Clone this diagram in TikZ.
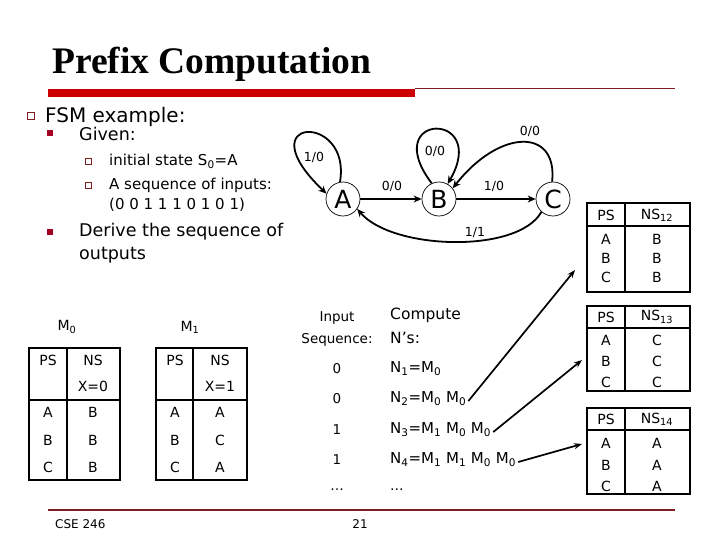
\documentclass[tikz,border=0pt]{standalone}
\usepackage{fontspec}
\setmainfont{DejaVu Sans}
\newfontfamily\titlefont{Liberation Serif}
\usetikzlibrary{arrows.meta}
\definecolor{barred}{RGB}{204,0,0}
\definecolor{linered}{RGB}{125,30,35}
\definecolor{bulletred}{RGB}{165,0,33}
\newcommand{\myfs}[1]{\fontsize{#1}{#1}\selectfont}
\begin{document}
\begin{tikzpicture}[x=1pt,y=-1pt,
  txt/.style={inner sep=0pt, anchor=west},
  ctxt/.style={inner sep=0pt},
  statenode/.style={circle, draw, line width=0.7pt, minimum size=34pt, inner sep=0pt, font=\myfs{25}},
  edgelab/.style={inner sep=0pt, font=\myfs{12.5}},
  trans/.style={line width=1.8pt, -{Stealth[length=8pt,width=7pt]}},
  tabline/.style={line width=2.2pt},
  celltxt/.style={inner sep=0pt, font=\myfs{14}},
  ptr/.style={line width=1.7pt, -{Stealth[length=8pt,width=6pt]}}]
\useasboundingbox (0,0) rectangle (720,540);
\fill[white] (0,0) rectangle (720,540);

% title
\node[txt, font=\titlefont\bfseries\myfs{37.5}] (title) at (52,64) {Prefix Computation};
\fill[barred] (48,89) rectangle (415,97);
\draw[linered, line width=1.3pt] (415,88.5) -- (675,88.5);

% bullets
\draw[linered, line width=0.8pt] (27,112.5) rectangle (34,119.5);
\fill[bulletred] (47,130) rectangle (53,136);
\fill[bulletred] (47,229) rectangle (53,235);
\draw[linered, line width=0.7pt] (85,158.5) rectangle (91,164.5);
\draw[linered, line width=0.7pt] (85,182.5) rectangle (91,188.5);

\node[txt, font=\myfs{20}] (fsm) at (45,117) {FSM example:};
\node[txt, font=\myfs{17.5}] (given) at (79,134) {Given:};
\node[txt, font=\myfs{15}] (init) at (109,161) {initial state S\textsubscript{0}=A};
\node[txt, font=\myfs{15}] (seq1) at (109,185) {A sequence of inputs:};
\node[txt, font=\myfs{15}] (seq2) at (109,205) {(0 0 1 1 1 0 1 0 1)};
\node[txt, font=\myfs{17.5}] (der1) at (79,232) {Derive the sequence of};
\node[txt, font=\myfs{17.5}] (der2) at (79,255) {outputs};

% state diagram
\node[statenode] (A) at (343,199) {A};
\node[statenode] (B) at (439,199) {B};
\node[statenode] (C) at (553,199) {C};
\draw[trans] (A.100) .. controls (352,112) and (245,116) .. (A.162);
\node[edgelab] (lA) at (314,157) {1/0};
\draw[trans] (B.115) .. controls (378,112) and (490,110) .. (B.60);
\node[edgelab] (lB) at (435,151) {0/0};
\draw[trans] (A) -- (B);
\node[edgelab] (lAB) at (392,186) {0/0};
\draw[trans] (B) -- (C);
\node[edgelab] (lBC) at (494,186) {1/0};
\draw[trans] (C.93) .. controls (558,128) and (500,128) .. (B.38);
\node[edgelab] (lCB) at (530,131) {0/0};
\draw[trans] (C.228) .. controls (518,254) and (392,250) .. (A.-35);
\node[edgelab] (lCA) at (475,233) {1/1};

% left tables
\node[ctxt, font=\myfs{14}] (M0) at (67,327) {M\textsubscript{0}};
\node[ctxt, font=\myfs{14}] (M1) at (190,327) {M\textsubscript{1}};
\draw[tabline] (29,348) rectangle (120,480);
\draw[tabline] (29,400) -- (120,400);
\draw[tabline] (67,348) -- (67,480);
\draw[tabline] (156,348) rectangle (247,480);
\draw[tabline] (156,400) -- (247,400);
\draw[tabline] (193,348) -- (193,480);
\node[celltxt] (m0ps) at (48,360) {PS};
\node[celltxt] (m0ns) at (93,360) {NS};
\node[celltxt] (m0x) at (93,386) {X=0};
\node[celltxt] (m0a) at (48,412) {A};
\node[celltxt] (m0b) at (48,440) {B};
\node[celltxt] (m0c) at (48,467) {C};
\node[celltxt] (m0na) at (93,412) {B};
\node[celltxt] (m0nb) at (93,440) {B};
\node[celltxt] (m0nc) at (93,467) {B};
\node[celltxt] (m1ps) at (175,360) {PS};
\node[celltxt] (m1ns) at (220,360) {NS};
\node[celltxt] (m1x) at (220,386) {X=1};
\node[celltxt] (m1a) at (175,412) {A};
\node[celltxt] (m1b) at (175,440) {B};
\node[celltxt] (m1c) at (175,467) {C};
\node[celltxt] (m1na) at (220,412) {A};
\node[celltxt] (m1nb) at (220,440) {C};
\node[celltxt] (m1nc) at (220,467) {A};

% middle column
\node[ctxt, font=\myfs{13.5}] (inp) at (337,318) {Input};
\node[ctxt, font=\myfs{13.5}] (seqh) at (337,340) {Sequence:};
\node[txt, font=\myfs{15.5}] (comp) at (390,315) {Compute};
\node[txt, font=\myfs{15.5}] (ns) at (390,338) {N’s:};
\node[ctxt, font=\myfs{13.5}] (i1) at (337,369) {0};
\node[ctxt, font=\myfs{13.5}] (i2) at (337,399) {0};
\node[ctxt, font=\myfs{13.5}] (i3) at (337,430) {1};
\node[ctxt, font=\myfs{13.5}] (i4) at (337,460) {1};
\node[ctxt, font=\myfs{13.5}] (i5) at (337,490) {\dots};
\node[txt, font=\myfs{15}] (N1) at (390,369) {N\textsubscript{1}=M\textsubscript{0}};
\node[txt, font=\myfs{15}] (N2) at (390,399) {N\textsubscript{2}=M\textsubscript{0} M\textsubscript{0}};
\node[txt, font=\myfs{15}] (N3) at (390,430) {N\textsubscript{3}=M\textsubscript{1} M\textsubscript{0} M\textsubscript{0}};
\node[txt, font=\myfs{15}] (N4) at (390,460) {N\textsubscript{4}=M\textsubscript{1} M\textsubscript{1} M\textsubscript{0} M\textsubscript{0}};
\node[txt, font=\myfs{13.5}] (N5) at (390,490) {\dots};

% right tables
\foreach \t/\top/\hd/\bot in {1/203/226/292, 2/306/328/391, 3/408/430/494}{
  \draw[tabline] (587,\top) rectangle (690,\bot);
  \draw[tabline] (587,\hd) -- (690,\hd);
  \draw[tabline] (625,\top) -- (625,\bot);
}
\node[celltxt] (t1ps) at (606,215) {PS};
\node[celltxt] (t1ns) at (657,215) {NS\textsubscript{12}};
\node[celltxt] (t1a) at (606,239) {A};
\node[celltxt] (t1b) at (606,258) {B};
\node[celltxt] (t1c) at (606,277) {C};
\node[celltxt] (t1na) at (657,239) {B};
\node[celltxt] (t1nb) at (657,258) {B};
\node[celltxt] (t1nc) at (657,277) {B};
\node[celltxt] (t2ps) at (606,317) {PS};
\node[celltxt] (t2ns) at (657,317) {NS\textsubscript{13}};
\node[celltxt] (t2a) at (606,340) {A};
\node[celltxt] (t2b) at (606,361) {B};
\node[celltxt] (t2c) at (606,382) {C};
\node[celltxt] (t2na) at (657,340) {C};
\node[celltxt] (t2nb) at (657,361) {C};
\node[celltxt] (t2nc) at (657,382) {C};
\node[celltxt] (t3ps) at (606,419) {PS};
\node[celltxt] (t3ns) at (657,419) {NS\textsubscript{14}};
\node[celltxt] (t3a) at (606,443) {A};
\node[celltxt] (t3b) at (606,465) {B};
\node[celltxt] (t3c) at (606,486) {C};
\node[celltxt] (t3na) at (657,443) {A};
\node[celltxt] (t3nb) at (657,465) {A};
\node[celltxt] (t3nc) at (657,486) {A};

% pointers
\coordinate (p1) at (575,270);
\coordinate (p2) at (582,360);
\coordinate (p3) at (582,444);
\draw[ptr] ([xshift=2pt,yshift=-2pt]N2.east) -- (p1);
\draw[ptr] ([xshift=2pt,yshift=-2pt]N3.east) -- (p2);
\draw[ptr] ([xshift=2pt,yshift=-2pt]N4.east) -- (p3);

% footer
\draw[linered, line width=1.2pt] (48,510) -- (675,510);
\node[txt, font=\myfs{12}] (foot) at (55,524) {CSE 246};
\node[ctxt, font=\myfs{12}] (page) at (360,524) {21};
\end{tikzpicture}
\end{document}
